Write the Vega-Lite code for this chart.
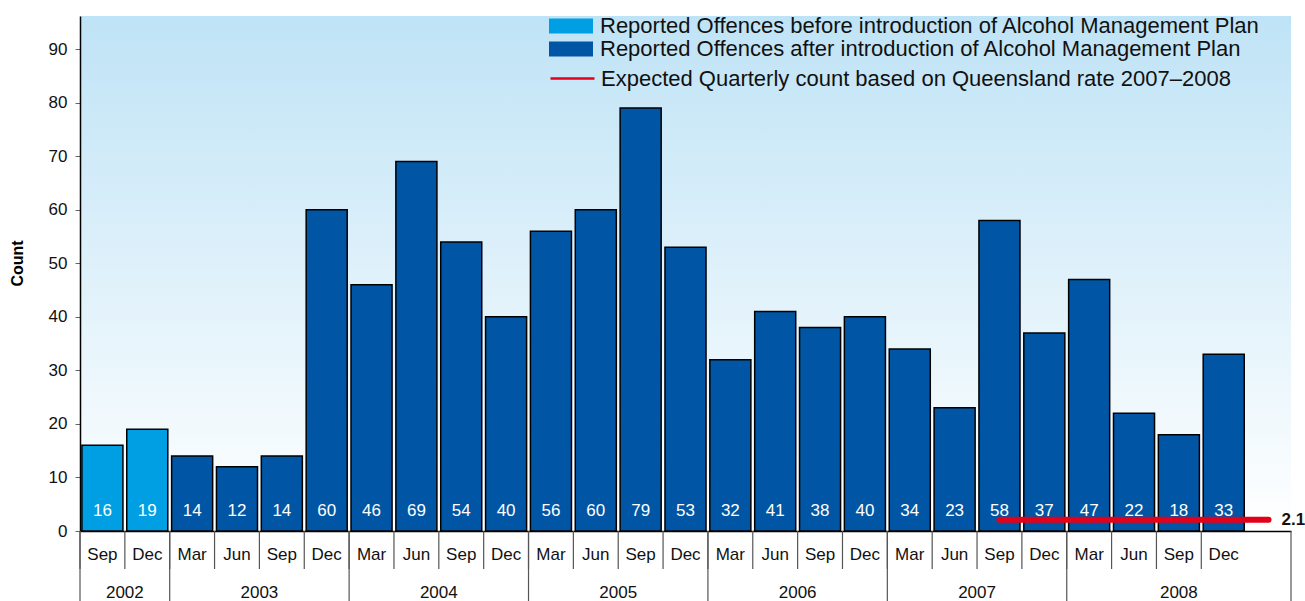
{
  "$schema": "https://vega.github.io/schema/vega-lite/v6.json",
  "description": "Reported offences by quarter, before and after the Alcohol Management Plan",
  "width": 1211,
  "height": 515,
  "padding": {"left": 9, "top": 15, "right": 0, "bottom": 0},
  "background": "white",
  "view": {
    "stroke": null,
    "fill": {
      "gradient": "linear", "x1": 0, "y1": 0, "x2": 0, "y2": 1,
      "stops": [{"offset": 0, "color": "#bfe3f6"}, {"offset": 1, "color": "#ffffff"}]
    }
  },
  "config": {
    "font": "Liberation Sans"
  },
  "datasets": {
    "quarters": [
      {"q": "2002-Sep", "year": "2002", "month": "Sep", "count": 16, "period": "Reported Offences before introduction of Alcohol Management Plan"},
      {"q": "2002-Dec", "year": "2002", "month": "Dec", "count": 19, "period": "Reported Offences before introduction of Alcohol Management Plan"},
      {"q": "2003-Mar", "year": "2003", "month": "Mar", "count": 14, "period": "Reported Offences  after introduction of Alcohol Management Plan"},
      {"q": "2003-Jun", "year": "2003", "month": "Jun", "count": 12, "period": "Reported Offences  after introduction of Alcohol Management Plan"},
      {"q": "2003-Sep", "year": "2003", "month": "Sep", "count": 14, "period": "Reported Offences  after introduction of Alcohol Management Plan"},
      {"q": "2003-Dec", "year": "2003", "month": "Dec", "count": 60, "period": "Reported Offences  after introduction of Alcohol Management Plan"},
      {"q": "2004-Mar", "year": "2004", "month": "Mar", "count": 46, "period": "Reported Offences  after introduction of Alcohol Management Plan"},
      {"q": "2004-Jun", "year": "2004", "month": "Jun", "count": 69, "period": "Reported Offences  after introduction of Alcohol Management Plan"},
      {"q": "2004-Sep", "year": "2004", "month": "Sep", "count": 54, "period": "Reported Offences  after introduction of Alcohol Management Plan"},
      {"q": "2004-Dec", "year": "2004", "month": "Dec", "count": 40, "period": "Reported Offences  after introduction of Alcohol Management Plan"},
      {"q": "2005-Mar", "year": "2005", "month": "Mar", "count": 56, "period": "Reported Offences  after introduction of Alcohol Management Plan"},
      {"q": "2005-Jun", "year": "2005", "month": "Jun", "count": 60, "period": "Reported Offences  after introduction of Alcohol Management Plan"},
      {"q": "2005-Sep", "year": "2005", "month": "Sep", "count": 79, "period": "Reported Offences  after introduction of Alcohol Management Plan"},
      {"q": "2005-Dec", "year": "2005", "month": "Dec", "count": 53, "period": "Reported Offences  after introduction of Alcohol Management Plan"},
      {"q": "2006-Mar", "year": "2006", "month": "Mar", "count": 32, "period": "Reported Offences  after introduction of Alcohol Management Plan"},
      {"q": "2006-Jun", "year": "2006", "month": "Jun", "count": 41, "period": "Reported Offences  after introduction of Alcohol Management Plan"},
      {"q": "2006-Sep", "year": "2006", "month": "Sep", "count": 38, "period": "Reported Offences  after introduction of Alcohol Management Plan"},
      {"q": "2006-Dec", "year": "2006", "month": "Dec", "count": 40, "period": "Reported Offences  after introduction of Alcohol Management Plan"},
      {"q": "2007-Mar", "year": "2007", "month": "Mar", "count": 34, "period": "Reported Offences  after introduction of Alcohol Management Plan"},
      {"q": "2007-Jun", "year": "2007", "month": "Jun", "count": 23, "period": "Reported Offences  after introduction of Alcohol Management Plan"},
      {"q": "2007-Sep", "year": "2007", "month": "Sep", "count": 58, "period": "Reported Offences  after introduction of Alcohol Management Plan"},
      {"q": "2007-Dec", "year": "2007", "month": "Dec", "count": 37, "period": "Reported Offences  after introduction of Alcohol Management Plan"},
      {"q": "2008-Mar", "year": "2008", "month": "Mar", "count": 47, "period": "Reported Offences  after introduction of Alcohol Management Plan"},
      {"q": "2008-Jun", "year": "2008", "month": "Jun", "count": 22, "period": "Reported Offences  after introduction of Alcohol Management Plan"},
      {"q": "2008-Sep", "year": "2008", "month": "Sep", "count": 18, "period": "Reported Offences  after introduction of Alcohol Management Plan"},
      {"q": "2008-Dec", "year": "2008", "month": "Dec", "count": 33, "period": "Reported Offences  after introduction of Alcohol Management Plan"}
    ],
    "expected": [
      {"from": "2007-Sep", "to": "2008-end", "expected": 2.1, "series": "Expected Quarterly count based on Queensland rate 2007–2008"}
    ]
  },
  "layer": [
    {
      "data": {"name": "quarters"},
      "mark": {"type": "bar", "width": {"band": 0.915}, "stroke": "black", "strokeWidth": 1.5},
      "encoding": {
        "x": {
          "field": "q", "type": "nominal", "title": null,
          "scale": {
            "domain": ["2002-Sep", "2002-Dec", "2003-Mar", "2003-Jun", "2003-Sep", "2003-Dec",
                       "2004-Mar", "2004-Jun", "2004-Sep", "2004-Dec", "2005-Mar", "2005-Jun", "2005-Sep", "2005-Dec",
                       "2006-Mar", "2006-Jun", "2006-Sep", "2006-Dec", "2007-Mar", "2007-Jun", "2007-Sep", "2007-Dec",
                       "2008-Mar", "2008-Jun", "2008-Sep", "2008-Dec", "2008-end"],
            "paddingInner": 0, "paddingOuter": 0
          },
          "axis": {
            "labelAngle": 0,
            "labelExpr": "indexof(datum.value, 'end') >= 0 ? '' : split(datum.value, '-')[1]",
            "labelFontSize": 17, "labelColor": "#111", "labelPadding": 15,
            "ticks": false,
            "domainColor": "black", "domainWidth": 1.5
          }
        },
        "y": {
          "field": "count", "type": "quantitative", "title": "Count",
          "scale": {"domain": [0, 96.2], "nice": false},
          "axis": {
            "values": [0, 10, 20, 30, 40, 50, 60, 70, 80, 90],
            "grid": false, "tickSize": 5, "tickColor": "#666",
            "labelFontSize": 17, "labelColor": "#111", "labelPadding": 8,
            "domainColor": "black", "domainWidth": 1.5,
            "titleFontSize": 16, "titleFontWeight": "bold", "titleColor": "black",
            "titleAlign": "center", "titleBaseline": "middle", "titleX": -63, "titleY": 247
          }
        },
        "color": {
          "field": "period", "type": "nominal",
          "scale": {
            "domain": ["Reported Offences before introduction of Alcohol Management Plan", "Reported Offences  after introduction of Alcohol Management Plan"],
            "range": ["#009fe3", "#0056a4"]
          },
          "legend": {
            "orient": "none", "legendX": 480, "legendY": -1, "title": null, "padding": 0,
            "symbolType": "M-2,-0.68H2V0.68H-2Z", "symbolSize": 484, "symbolStrokeWidth": 0,
            "labelFontSize": 22, "labelColor": "#111", "labelLimit": 900, "labelOffset": 18, "rowPadding": 1
          }
        }
      }
    },
    {
      "data": {"name": "quarters"},
      "mark": {"type": "text", "color": "white", "fontSize": 17, "baseline": "middle", "dy": -20},
      "encoding": {
        "x": {"field": "q", "type": "nominal"},
        "y": {"datum": 0},
        "text": {"field": "count", "type": "quantitative"}
      }
    },
    {
      "data": {"name": "quarters"},
      "mark": {"type": "rule", "color": "#555", "strokeWidth": 1.2},
      "encoding": {
        "x": {"field": "q", "type": "nominal", "bandPosition": 0},
        "y": {"datum": 0},
        "y2": {"datum": -7.1}
      }
    },
    {
      "data": {"name": "quarters"},
      "transform": [{"filter": "datum.month === 'Mar' || datum.q === '2002-Sep'"}],
      "mark": {"type": "rule", "color": "#555", "strokeWidth": 1.2},
      "encoding": {
        "x": {"field": "q", "type": "nominal", "bandPosition": 0},
        "y": {"datum": 0},
        "y2": {"datum": -13.3}
      }
    },
    {
      "data": {"name": "expected"},
      "mark": {"type": "rule", "color": "#555", "strokeWidth": 1.2},
      "encoding": {
        "x": {"field": "to", "type": "nominal", "bandPosition": 1},
        "y": {"datum": 0},
        "y2": {"datum": -13.3}
      }
    },
    {
      "data": {"name": "quarters"},
      "transform": [{"filter": "datum.q === '2002-Dec' || (datum.month === 'Sep' && datum.year !== '2002' && datum.year !== '2008')"}],
      "mark": {"type": "text", "fontSize": 17, "color": "#111", "baseline": "middle"},
      "encoding": {
        "x": {"field": "q", "type": "nominal", "bandPosition": 0},
        "y": {"datum": -11.6},
        "text": {"field": "year", "type": "nominal"}
      }
    },
    {
      "data": {"name": "quarters"},
      "transform": [{"filter": "datum.q === '2008-Sep'"}],
      "mark": {"type": "text", "fontSize": 17, "color": "#111", "baseline": "middle"},
      "encoding": {
        "x": {"field": "q", "type": "nominal"},
        "y": {"datum": -11.6},
        "text": {"field": "year", "type": "nominal"}
      }
    },
    {
      "data": {"name": "expected"},
      "mark": {"type": "rule", "strokeWidth": 6, "strokeCap": "round"},
      "encoding": {
        "x": {"field": "from", "type": "nominal"},
        "x2": {"field": "to"},
        "y": {"field": "expected", "type": "quantitative"},
        "stroke": {
          "field": "series", "type": "nominal",
          "scale": {"range": ["#e2001a"]},
          "legend": {
            "orient": "none", "legendX": 469, "legendY": 39, "title": null, "padding": 0,
            "symbolType": "stroke", "symbolSize": 1936, "symbolStrokeWidth": 2.5,
            "labelFontSize": 22, "labelColor": "#111", "labelLimit": 900, "labelOffset": 5
          }
        }
      }
    },
    {
      "data": {"name": "expected"},
      "mark": {"type": "text", "fontSize": 17, "fontWeight": "bold", "color": "#111", "align": "left", "baseline": "middle", "dx": 13},
      "encoding": {
        "x": {"field": "to", "type": "nominal"},
        "y": {"field": "expected", "type": "quantitative"},
        "text": {"field": "expected", "type": "quantitative", "format": ".1f"}
      }
    }
  ]
}
